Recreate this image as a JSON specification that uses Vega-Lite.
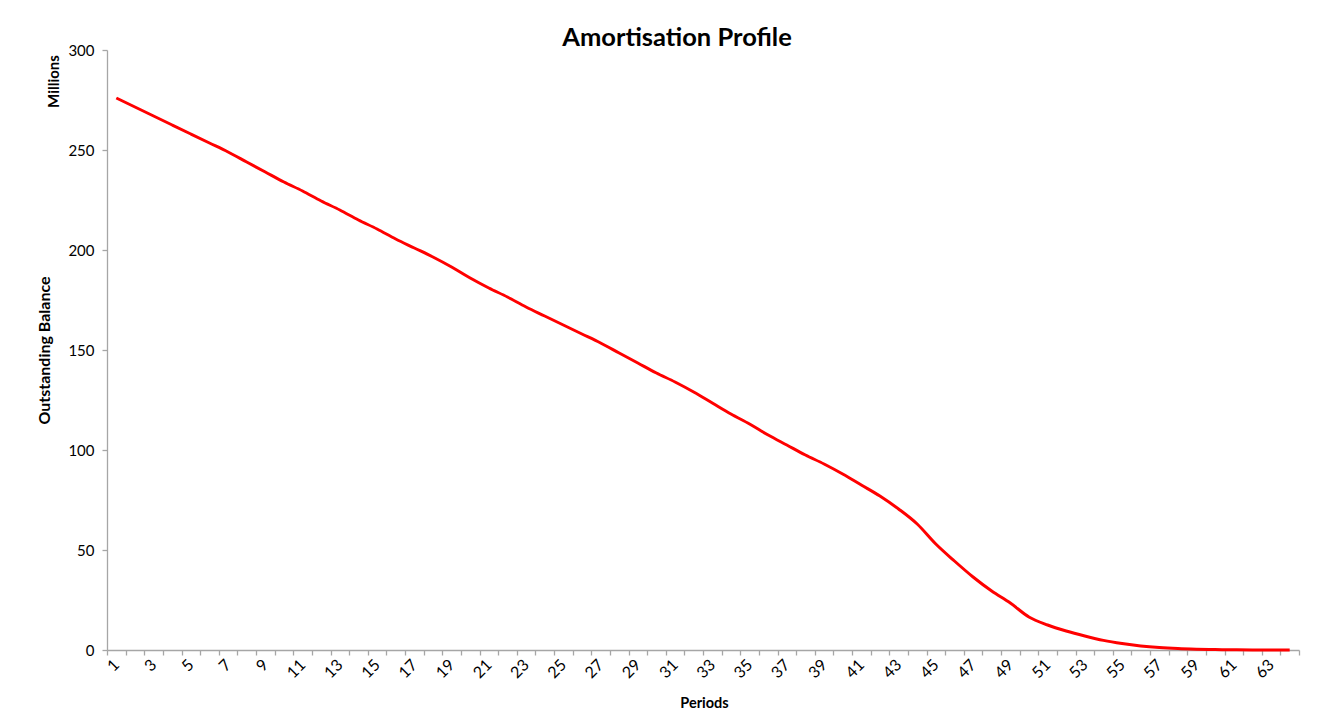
{
  "$schema": "https://vega.github.io/schema/vega-lite/v6.json",
  "autosize": {"type": "none"},
  "padding": {"left": 107, "top": 50, "right": 28, "bottom": 63},
  "width": 1192,
  "height": 600,
  "background": "#ffffff",
  "config": {
    "view": {"stroke": null},
    "font": "Lato",
    "axis": {"labelFont": "Lato", "titleFont": "Lato", "labelColor": "#000000", "titleColor": "#000000", "domainColor": "#A6A6A6", "tickColor": "#A6A6A6", "grid": false}
  },
  "title": {
    "text": "Amortisation Profile",
    "font": "Lato",
    "fontSize": 25.5,
    "fontWeight": "bold",
    "color": "#000000",
    "anchor": "middle",
    "dx": -26,
    "dy": 34,
    "baseline": "alphabetic",
    "offset": 6
  },
  "data": {
    "values": [
      {"period": 1, "balance": 276},
      {"period": 2, "balance": 271.5},
      {"period": 3, "balance": 267},
      {"period": 4, "balance": 262.5},
      {"period": 5, "balance": 258},
      {"period": 6, "balance": 253.5},
      {"period": 7, "balance": 249},
      {"period": 8, "balance": 244},
      {"period": 9, "balance": 239},
      {"period": 10, "balance": 234},
      {"period": 11, "balance": 229.5},
      {"period": 12, "balance": 224.5},
      {"period": 13, "balance": 220},
      {"period": 14, "balance": 215},
      {"period": 15, "balance": 210.5},
      {"period": 16, "balance": 205.5},
      {"period": 17, "balance": 201},
      {"period": 18, "balance": 196.5},
      {"period": 19, "balance": 191.5},
      {"period": 20, "balance": 186},
      {"period": 21, "balance": 181},
      {"period": 22, "balance": 176.5},
      {"period": 23, "balance": 171.5},
      {"period": 24, "balance": 167},
      {"period": 25, "balance": 162.5},
      {"period": 26, "balance": 158},
      {"period": 27, "balance": 153.5},
      {"period": 28, "balance": 148.5},
      {"period": 29, "balance": 143.5},
      {"period": 30, "balance": 138.5},
      {"period": 31, "balance": 134},
      {"period": 32, "balance": 129},
      {"period": 33, "balance": 123.5},
      {"period": 34, "balance": 118},
      {"period": 35, "balance": 113},
      {"period": 36, "balance": 107.5},
      {"period": 37, "balance": 102.5},
      {"period": 38, "balance": 97.5},
      {"period": 39, "balance": 93},
      {"period": 40, "balance": 88},
      {"period": 41, "balance": 82.5},
      {"period": 42, "balance": 77},
      {"period": 43, "balance": 70.5},
      {"period": 44, "balance": 63},
      {"period": 45, "balance": 53},
      {"period": 46, "balance": 44.5},
      {"period": 47, "balance": 36.5},
      {"period": 48, "balance": 29.5},
      {"period": 49, "balance": 23.5},
      {"period": 50, "balance": 16.5},
      {"period": 51, "balance": 12.5},
      {"period": 52, "balance": 9.5},
      {"period": 53, "balance": 7},
      {"period": 54, "balance": 4.8},
      {"period": 55, "balance": 3.2},
      {"period": 56, "balance": 2},
      {"period": 57, "balance": 1.2},
      {"period": 58, "balance": 0.7},
      {"period": 59, "balance": 0.4},
      {"period": 60, "balance": 0.2},
      {"period": 61, "balance": 0.1},
      {"period": 62, "balance": 0.05},
      {"period": 63, "balance": 0.02},
      {"period": 64, "balance": 0}
    ]
  },
  "layer": [
    {
      "mark": {"type": "line", "color": "#FF0000", "strokeWidth": 3, "interpolate": "monotone"},
      "encoding": {
        "x": {
          "field": "period",
          "type": "ordinal",
          "bandPosition": 0.5,
          "scale": {"type": "band", "paddingInner": 0, "paddingOuter": 0},
          "axis": {
            "title": "Periods",
            "titleFontSize": 14.5,
            "titleFontWeight": "bold",
            "titleBaseline": "alphabetic",
            "titleY": 57,
            "titleX": 597,
            "labelAngle": -45,
            "labelAlign": "right",
            "labelBaseline": "middle",
            "labelFontSize": 16,
            "labelPadding": 7,
            "labelOverlap": false,
            "labelFlush": false,
            "labelExpr": "datum.value % 2 == 1 ? datum.label : ''",
            "tickBand": "extent",
            "tickSize": 5,
            "domainWidth": 1.3,
            "tickWidth": 1.3
          }
        },
        "y": {
          "field": "balance",
          "type": "quantitative",
          "scale": {"domain": [0, 300], "nice": false},
          "axis": {
            "values": [0, 50, 100, 150, 200, 250, 300],
            "title": "Outstanding Balance",
            "titleFontSize": 16,
            "titleFontWeight": "bold",
            "titleAngle": -90,
            "titleAlign": "center",
            "titleBaseline": "middle",
            "titleX": -63,
            "titleY": 300,
            "labelFontSize": 15,
            "labelPadding": 8,
            "tickSize": 5,
            "domainWidth": 1.3,
            "tickWidth": 1.3
          }
        }
      }
    },
    {
      "mark": {"type": "line", "opacity": 0},
      "encoding": {
        "x": {"field": "period", "type": "ordinal"},
        "y": {
          "field": "balance",
          "type": "quantitative",
          "axis": {
            "orient": "left",
            "labels": false,
            "ticks": false,
            "domain": false,
            "title": "Millions",
            "titleFontSize": 15,
            "titleFontWeight": "bold",
            "titleAngle": -90,
            "titleAlign": "center",
            "titleBaseline": "middle",
            "titleX": -54,
            "titleY": 31
          }
        }
      }
    }
  ],
  "resolve": {"axis": {"y": "independent"}}
}
